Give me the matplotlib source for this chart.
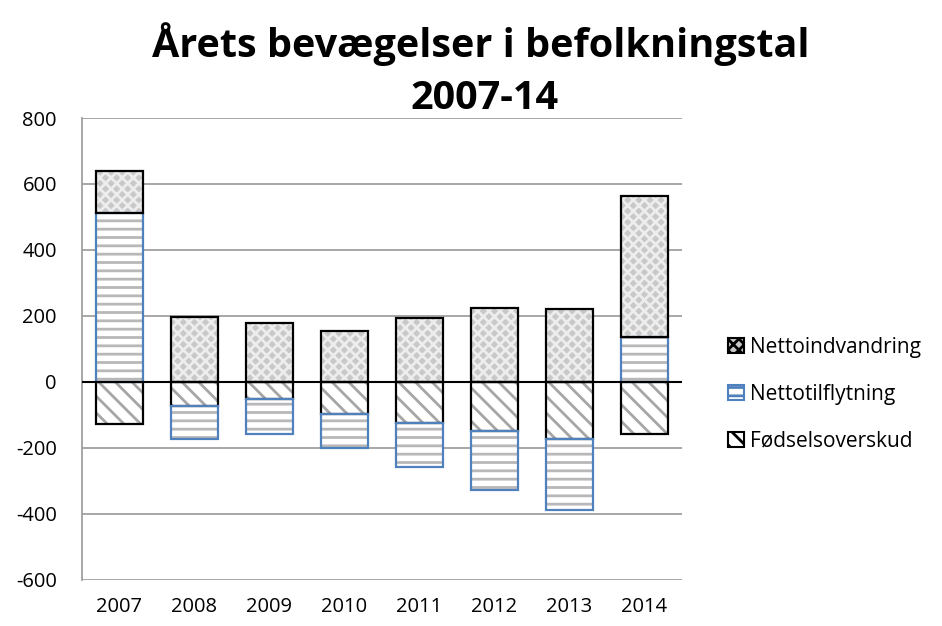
import numpy as np
import matplotlib.pyplot as plt

# data
years = ['2007', '2008', '2009', '2010', '2011', '2012', '2013', '2014']
fodsel = [-127, -73, -51, -97, -124, -148, -173, -158]
tilflyt = [512, -100, -107, -103, -134, -179, -215, 136]
indvand = [127, 197, 178, 155, 194, 224, 221, 428]

plt.rcParams['font.family'] = ['Open Sans', 'DejaVu Sans']
plt.rcParams['hatch.linewidth'] = 2.0
plt.rcParams['axes.unicode_minus'] = False

fig = plt.figure(figsize=(9.42, 6.26), dpi=100)
ax = fig.add_axes([0.087, 0.0735, 0.637, 0.738])

x = np.arange(len(years))
w = 0.63
pos = np.zeros(len(years))
neg = np.zeros(len(years))

series = [
    ('Fødselsoverskud', fodsel, 'white', '#a6a6a6', '\\\\', 'black'),
    ('Nettotilflytning', tilflyt, 'white', '#b8b8b8', '--', '#4f81bd'),
    ('Nettoindvandring', indvand, '#c8c8c8', '#ededed', 'xxx', 'black'),
]
handles = []
for name, vals, face, hcol, hatch, edge in series:
    vals = np.array(vals, dtype=float)
    bottom = np.where(vals >= 0, pos, neg)
    # hatch layer, then the outline on top
    ax.bar(x, vals, w, bottom=bottom, color=face, edgecolor=hcol,
           hatch=hatch, linewidth=0, zorder=2)
    ax.bar(x, vals, w, bottom=bottom, fill=False, edgecolor=edge,
           linewidth=1.6, zorder=3)
    pos = pos + np.where(vals >= 0, vals, 0)
    neg = neg + np.where(vals < 0, vals, 0)
    h = plt.Rectangle((0, 0), 1, 1, facecolor=face, edgecolor=edge,
                      hatch=hatch, linewidth=1.5)
    handles.append((h, name))

ax.set_ylim(-600, 800)
ax.set_xlim(-0.5, len(years) - 0.5)
ax.set_yticks(range(-600, 801, 200))
ax.set_xticks(x)
ax.set_xticklabels(years)
ax.tick_params(length=0, labelsize=14.5)
ax.tick_params(axis='y', pad=18)
ax.tick_params(axis='x', pad=12.5)
ax.grid(axis='y', color='#a0a0a0', linewidth=1.3, zorder=0)
ax.axhline(0, color='black', linewidth=1.5, zorder=4)
for s in ['top', 'right', 'bottom']:
    ax.spines[s].set_visible(False)
ax.spines['left'].set_color('#a0a0a0')
ax.spines['left'].set_linewidth(1.3)

hs = [h for h, n in handles][::-1]
ns = [n for h, n in handles][::-1]
fig.legend(hs, ns, loc='center left', bbox_to_anchor=(0.762, 0.37),
           frameon=False, fontsize=15, handlelength=0.75, handleheight=0.75,
           labelspacing=1.25, handletextpad=0.3, borderpad=0)

fig.text(0.51, 0.93, 'Årets bevægelser i befolkningstal', ha='center',
         va='center', fontsize=28.5, fontweight='bold')
fig.text(0.514, 0.843, '2007-14', ha='center', va='center',
         fontsize=28.5, fontweight='bold')

plt.savefig('out.png', dpi=100)
